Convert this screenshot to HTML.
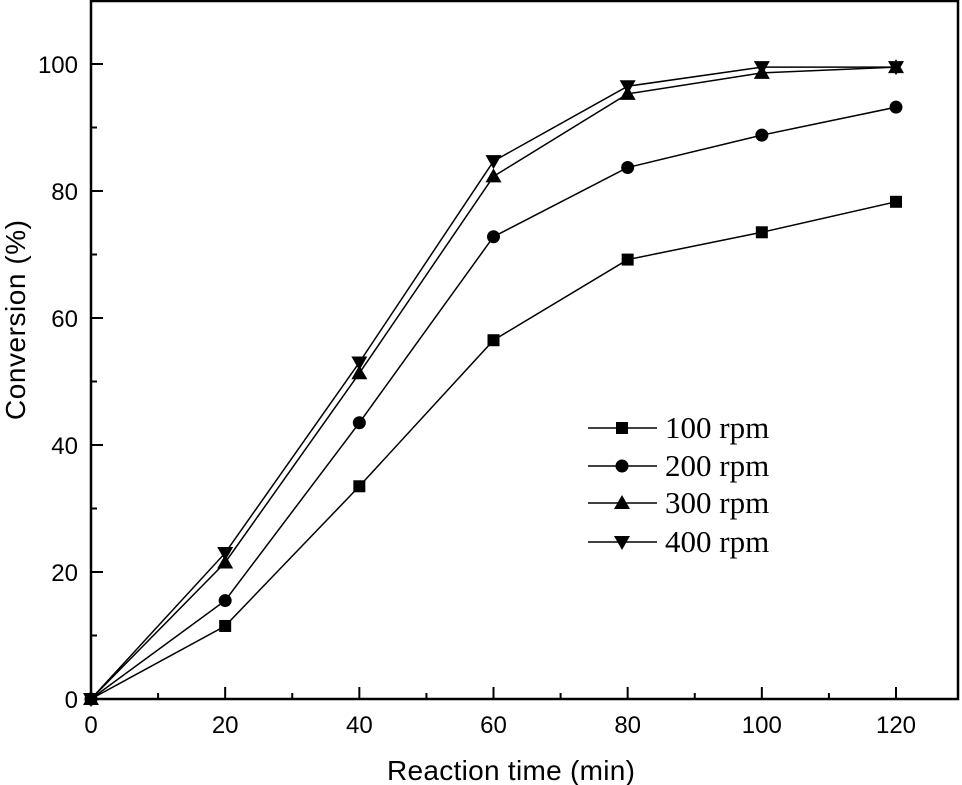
<!DOCTYPE html>
<html><head><meta charset="utf-8"><style>body{margin:0;background:#fff}svg{display:block}</style></head>
<body>
<svg id="chart" width="962" height="785" xmlns="http://www.w3.org/2000/svg" font-family="Liberation Sans, sans-serif"></svg>
<script>
const xTicks=[0,20,40,60,80,100,120];
const yTicks=[0,20,40,60,80,100];
const times=[0,20,40,60,80,100,120];
const s100=[0,11.5,33.5,56.5,69.2,73.5,78.3];
const s200=[0,15.5,43.5,72.8,83.7,88.8,93.2];
const s300=[0,21.5,51.3,82.3,95.3,98.6,99.5];
const s400=[0,23,53,84.7,96.5,99.5,99.5];
const labels=["100 rpm","200 rpm","300 rpm","400 rpm"];
const NS="http://www.w3.org/2000/svg";
const svg=document.getElementById('chart');
const X=v=>91+v*(896-91)/120;
const Y=v=>699-v*(699-64)/100;
function mk(t,a,p){const e=document.createElementNS(NS,t);for(const k in a)e.setAttribute(k,a[k]);(p||svg).appendChild(e);return e;}
const frame=mk('rect',{x:91,y:1,width:867,height:698,fill:'none',stroke:'#000','stroke-width':2.5});


for(let v=0;v<=130;v+=10){if(X(v)>957)break;const maj=v%20==0;
 const t=mk('line',{x1:X(v),x2:X(v),y1:699,y2:699-(maj?12:6),stroke:'#000','stroke-width':2});
 
 }
for(let v=0;v<=110;v+=10){const maj=v%20==0;
 const t=mk('line',{x1:91,x2:91+(maj?12:6),y1:Y(v),y2:Y(v),stroke:'#000','stroke-width':2});
 
 }
xTicks.forEach(v=>{const t=mk('text',{x:X(v),y:733,'text-anchor':'middle','font-size':24});t.textContent=v;
 
 });
yTicks.forEach(v=>{const t=mk('text',{x:78,y:Y(v)+9,'text-anchor':'end','font-size':24});t.textContent=v;
 
 });
const xt=mk('text',{x:511,y:780,'text-anchor':'middle','font-size':28,textLength:248});xt.textContent='Reaction time (min)';


const yt=mk('text',{x:0,y:0,'text-anchor':'middle','font-size':28,textLength:200,transform:'translate(25,320) rotate(-90)'});yt.textContent='Conversion (%)';


function marker(type,x,y,g){
 if(type==0)return mk('rect',{x:x-6,y:y-6,width:12,height:12,fill:'#000'},g);
 if(type==1)return mk('circle',{cx:x,cy:y,r:6.5,fill:'#000'},g);
 if(type==2)return mk('polygon',{points:`${x},${y-8} ${x-8},${y+6} ${x+8},${y+6}`,fill:'#000'},g);
 return mk('polygon',{points:`${x},${y+8} ${x-8},${y-6} ${x+8},${y-6}`,fill:'#000'},g);
}
[s100,s200,s300,s400].forEach((s,i)=>{
 const g=mk('g',{});
 
 
 mk('polyline',{points:s.map((v,j)=>X(times[j])+','+Y(v)).join(' '),fill:'none',stroke:'#000','stroke-width':1.5},g);
 s.forEach((v,j)=>{const m=marker(i,X(times[j]),Y(v),g);
  
  });
});
const ly=[428,466,503,542];
labels.forEach((l,i)=>{
 const g=mk('g',{});
 
 
 mk('line',{x1:588,x2:657,y1:ly[i],y2:ly[i],stroke:'#000','stroke-width':1.5},g);
 marker(i,622,ly[i],g);
 const t=mk('text',{x:665,y:ly[i]+10,'font-size':31,'font-family':'Liberation Serif, serif'},g);t.textContent=l;
});
</script>
</body></html>
